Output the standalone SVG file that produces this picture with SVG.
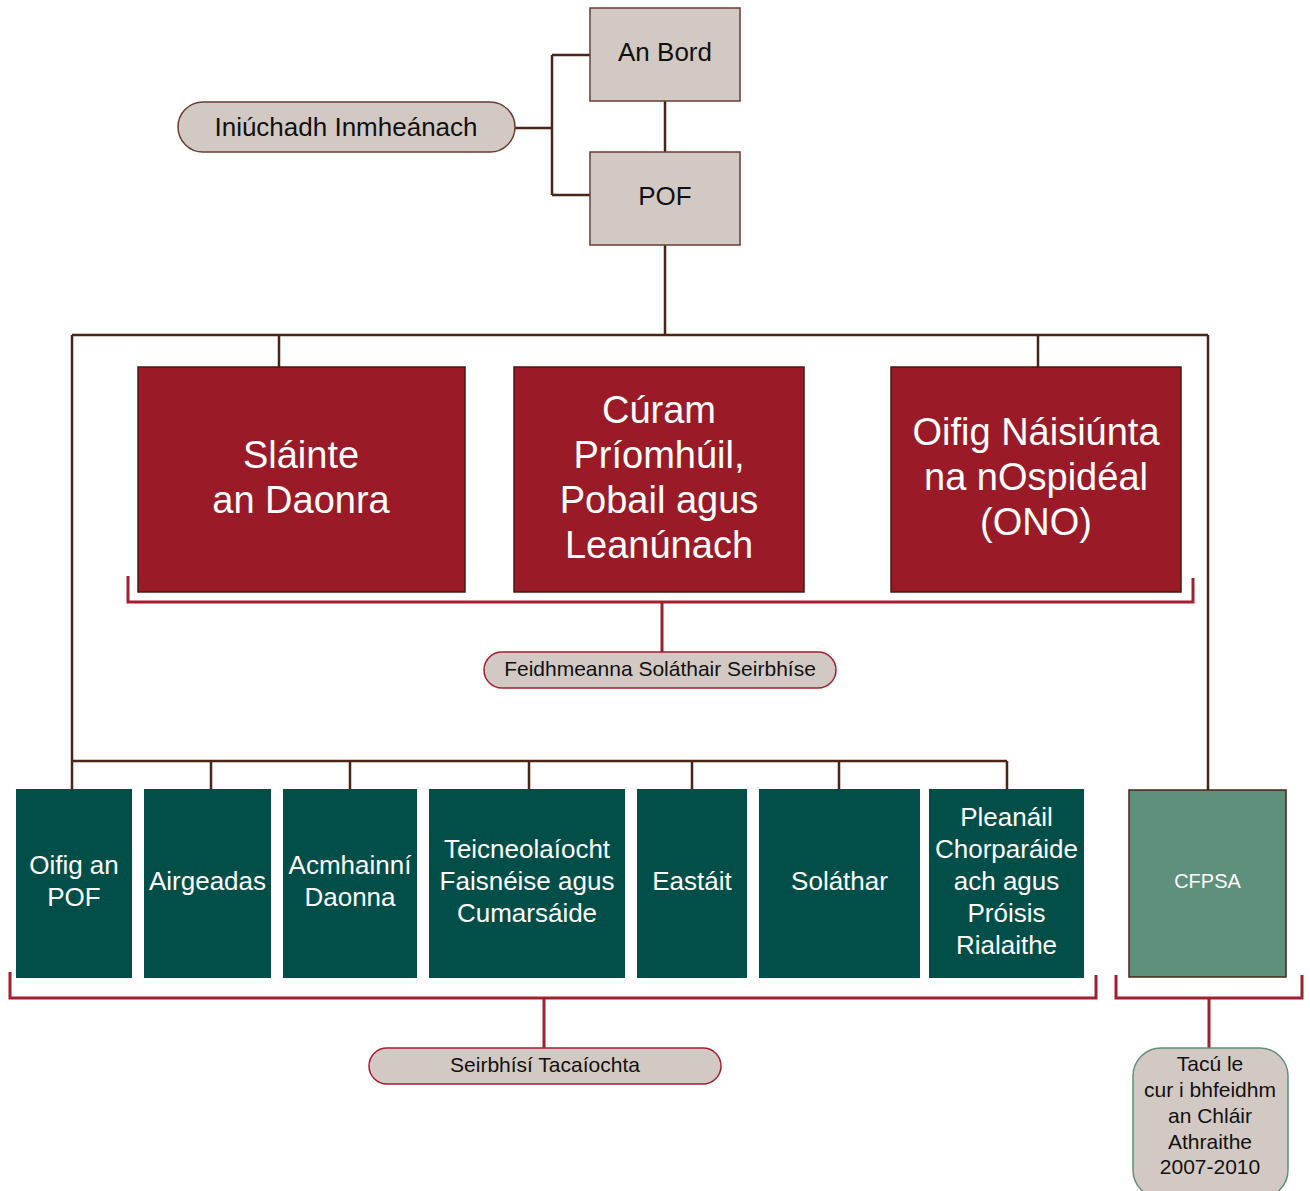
<svg xmlns="http://www.w3.org/2000/svg" width="1310" height="1191" viewBox="0 0 1310 1191">
<style>
.ln{fill:none;stroke:#4a2416;stroke-width:2.5}
.br{fill:none;stroke:#a31f2f;stroke-width:3}
.beige{fill:#d3c9c4;stroke:#6b3c30;stroke-width:1.5}
.red{fill:#9a1b27;stroke:#4a1a10;stroke-width:1.5}
.grn{fill:#024f49}
.t{font-family:"Liberation Sans",Arial,sans-serif;text-anchor:middle}
.dk{fill:#111}
.wh{fill:#fff}
</style>
<rect width="1310" height="1191" fill="#fff"/>
<g id="connectors">
<path class="ln" d="M665 101V152M665 245V335M72 335H1208M72 335V790M1208 335V790M279 335V367M1038 335V367"/>
<path class="ln" d="M515 128H552M552 55V195M552 55H590M552 195H590"/>
<path class="ln" d="M72 761H1007M211 761V789M350 761V789M529 761V789M692 761V789M839 761V789M1007 761V789"/>
<path class="br" d="M128 576V602H1193V578M662 602V652"/>
<path class="br" d="M10 972V998H1096V975M544 998V1048"/>
<path class="br" d="M1116 975V998H1302V975M1209 998V1048"/>
</g>
<g id="an-bord"><rect class="beige" x="590" y="8" width="150" height="93"/><text class="t dk" x="665" y="61" font-size="26">An Bord</text></g>
<g id="pof"><rect class="beige" x="590" y="152" width="150" height="93"/><text class="t dk" x="665" y="205" font-size="26">POF</text></g>
<g id="iniuchadh"><rect class="beige" x="178" y="102" width="337" height="50" rx="25"/><text class="t dk" x="346" y="136" font-size="26">Iniúchadh Inmheánach</text></g>
<g id="slainte"><rect class="red" x="138" y="367" width="327" height="225"/><text class="t wh" font-size="38"><tspan x="301" y="468">Sláinte</tspan><tspan x="301" y="513">an Daonra</tspan></text></g>
<g id="curam"><rect class="red" x="514" y="367" width="290" height="225"/><text class="t wh" font-size="38"><tspan x="659" y="423">Cúram</tspan><tspan x="659" y="468">Príomhúil,</tspan><tspan x="659" y="513">Pobail agus</tspan><tspan x="659" y="558">Leanúnach</tspan></text></g>
<g id="ono"><rect class="red" x="891" y="367" width="290" height="225"/><text class="t wh" font-size="38"><tspan x="1036" y="445">Oifig Náisiúnta</tspan><tspan x="1036" y="490">na nOspidéal</tspan><tspan x="1036" y="535">(ONO)</tspan></text></g>
<g id="feidhmeanna"><rect x="484" y="652" width="352" height="36" rx="18" fill="#d3c9c4" stroke="#a31f2f" stroke-width="1.5"/><text class="t dk" x="660" y="676" font-size="21">Feidhmeanna Soláthair Seirbhíse</text></g>
<g id="oifig-pof"><rect class="grn" x="16" y="789" width="116" height="189"/><text class="t wh" font-size="26"><tspan x="74" y="874">Oifig an</tspan><tspan x="74" y="906">POF</tspan></text></g>
<g id="airgeadas"><rect class="grn" x="144" y="789" width="127" height="189"/><text class="t wh" font-size="26"><tspan x="207.5" y="890">Airgeadas</tspan></text></g>
<g id="acmhainni"><rect class="grn" x="283" y="789" width="134" height="189"/><text class="t wh" font-size="26"><tspan x="350" y="874">Acmhainní</tspan><tspan x="350" y="906">Daonna</tspan></text></g>
<g id="teicneolaiocht"><rect class="grn" x="429" y="789" width="196" height="189"/><text class="t wh" font-size="26"><tspan x="527" y="858">Teicneolaíocht</tspan><tspan x="527" y="890">Faisnéise agus</tspan><tspan x="527" y="922">Cumarsáide</tspan></text></g>
<g id="eastait"><rect class="grn" x="637" y="789" width="110" height="189"/><text class="t wh" font-size="26"><tspan x="692" y="890">Eastáit</tspan></text></g>
<g id="solathar"><rect class="grn" x="759" y="789" width="161" height="189"/><text class="t wh" font-size="26"><tspan x="839.5" y="890">Soláthar</tspan></text></g>
<g id="pleanail"><rect class="grn" x="929" y="789" width="155" height="189"/><text class="t wh" font-size="26"><tspan x="1006.5" y="826">Pleanáil</tspan><tspan x="1006.5" y="858">Chorparáide</tspan><tspan x="1006.5" y="890">ach agus</tspan><tspan x="1006.5" y="922">Próisis</tspan><tspan x="1006.5" y="954">Rialaithe</tspan></text></g>
<g id="cfpsa"><rect x="1129" y="790" width="157" height="187" fill="#5e907b" stroke="#4a2416" stroke-width="1.5"/><text class="t wh" x="1207.5" y="888" font-size="20">CFPSA</text></g>
<g id="seirbhisi"><rect x="369" y="1048" width="352" height="36" rx="18" fill="#d3c9c4" stroke="#a31f2f" stroke-width="1.5"/><text class="t dk" x="545" y="1072" font-size="21">Seirbhísí Tacaíochta</text></g>
<g id="tacu"><rect x="1133" y="1048" width="155" height="150" rx="28" fill="#d3c9c4" stroke="#5e907b" stroke-width="1.5"/><text class="t dk" font-size="21"><tspan x="1210" y="1071">Tacú le</tspan><tspan x="1210" y="1097">cur i bhfeidhm</tspan><tspan x="1210" y="1123">an Chláir</tspan><tspan x="1210" y="1149">Athraithe</tspan><tspan x="1210" y="1174">2007-2010</tspan></text></g>
</svg>
